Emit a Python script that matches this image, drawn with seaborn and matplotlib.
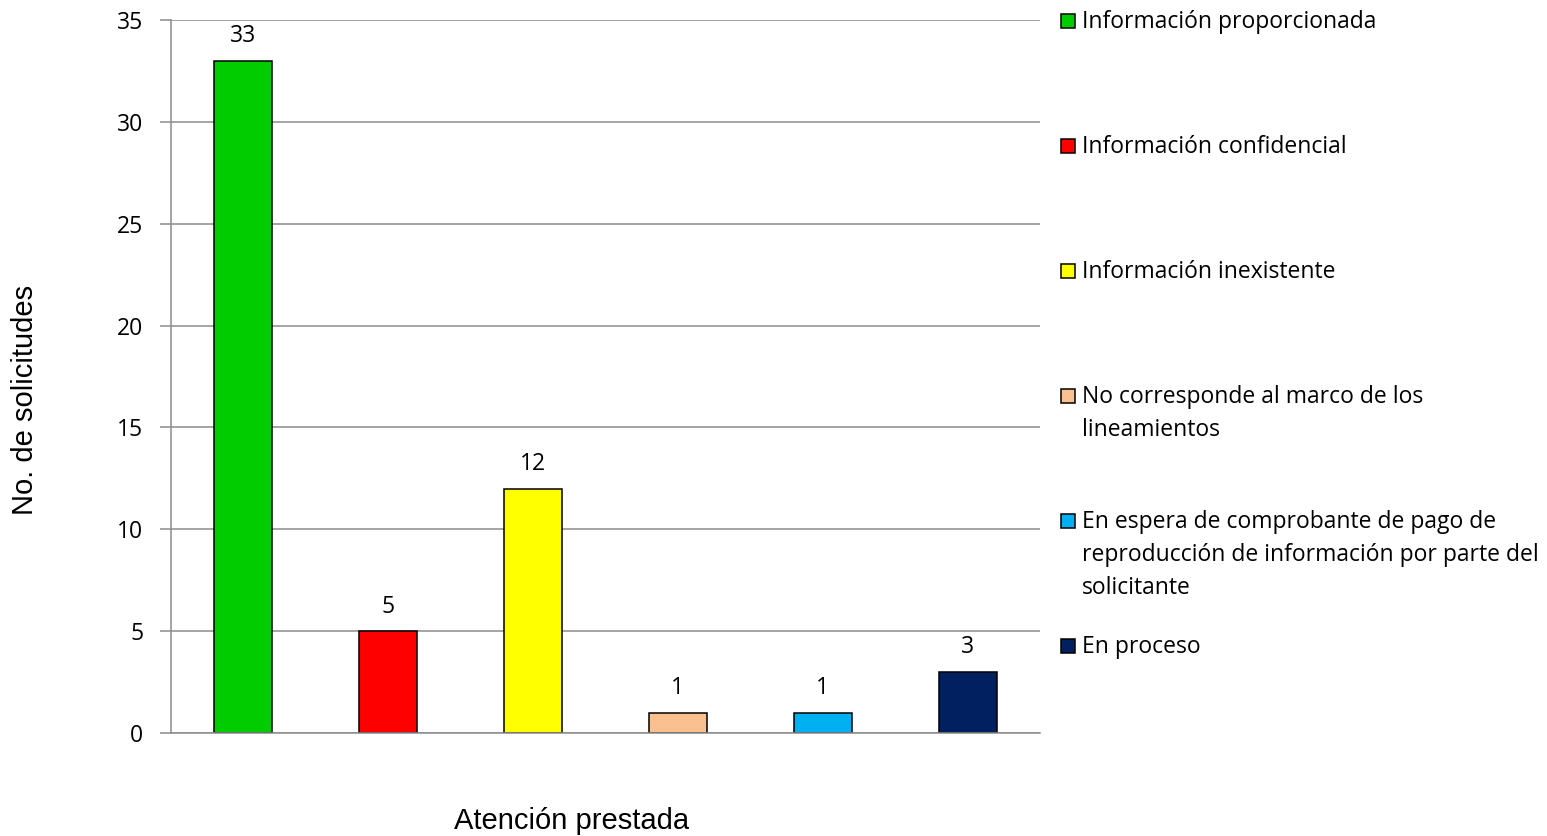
import matplotlib
matplotlib.use("Agg")
import matplotlib.pyplot as plt
import matplotlib.patches as mpatches
import seaborn as sns

# ── Data ──────────────────────────────────────────────────────────────────────
categories = [
    "Información proporcionada",
    "Información confidencial",
    "Información inexistente",
    "No corresponde al marco de los\nlineamientos",
    "En espera de comprobante de pago de\nreproducción de información por parte del\nsolicitante",
    "En proceso",
]
values = [33, 5, 12, 1, 1, 3]
colors = ["#00CC00", "#FF0000", "#FFFF00", "#FAC090", "#00B0F0", "#002060"]
yticks = [0, 5, 10, 15, 20, 25, 30, 35]

GRID = "#8C8C8C"
TEXT_FONT = ["Open Sans", "DejaVu Sans"]
AXIS_FONT = ["Liberation Sans", "DejaVu Sans"]
FS = 16.5

sns.set_style("white")
plt.rcParams["font.family"] = TEXT_FONT
plt.rcParams["text.color"] = "black"

W, H = 1547, 836
fig = plt.figure(figsize=(W / 100, H / 100), dpi=100)
ax = fig.add_axes([171 / W, (H - 733) / H, (1040 - 171) / W, (733 - 20) / H])

sns.barplot(x=list(range(len(values))), y=values, hue=list(range(len(values))),
            palette=colors, legend=False, width=0.4, dodge=False,
            edgecolor="black", linewidth=1.1, saturation=1, ax=ax)

for cont in ax.containers:
    ax.bar_label(cont, fontsize=FS, padding=9, color="black")

ax.set_xlim(-0.5, len(values) - 0.5)
ax.set_ylim(0, 35)
ax.set_yticks(yticks)
ax.set_yticklabels([str(t) for t in yticks], fontsize=FS, color="black")
ax.set_xticks([])
ax.set_xlabel("")
ax.set_ylabel("")
ax.yaxis.grid(True, color=GRID, linewidth=1.1)
ax.set_axisbelow(True)
ax.tick_params(axis="y", length=8, width=1.1, color=GRID, pad=12, left=True,
               labelcolor="black")
for s in ["top", "right"]:
    ax.spines[s].set_visible(False)
ax.spines["left"].set_color(GRID)
ax.spines["bottom"].set_color(GRID)
ax.spines["left"].set_linewidth(1.1)
ax.spines["bottom"].set_linewidth(1.1)

# axis titles
fig.text(572 / W, 1 - 821 / H, "Atención prestada", ha="center", va="center",
         fontsize=21, family=AXIS_FONT)
fig.text(25 / W, 1 - 400 / H, "No. de solicitudes", ha="center", va="center",
         rotation=90, fontsize=21, family=AXIS_FONT)

# legend (Excel-style layout on the right)
legend_y = [21, 146, 271, 396, 521, 646]   # first-line centre, px from top
for lab, col, yy in zip(categories, colors, legend_y):
    fig.patches.append(mpatches.Rectangle(
        (1061 / W, 1 - (yy + 7) / H), 14 / W, 14 / H, transform=fig.transFigure,
        facecolor=col, edgecolor="black", linewidth=1.1))
    fig.text(1082 / W, 1 - (yy - 11) / H, lab, ha="left", va="top",
             fontsize=FS, linespacing=1.5)

fig.savefig("out.png", dpi=100)
